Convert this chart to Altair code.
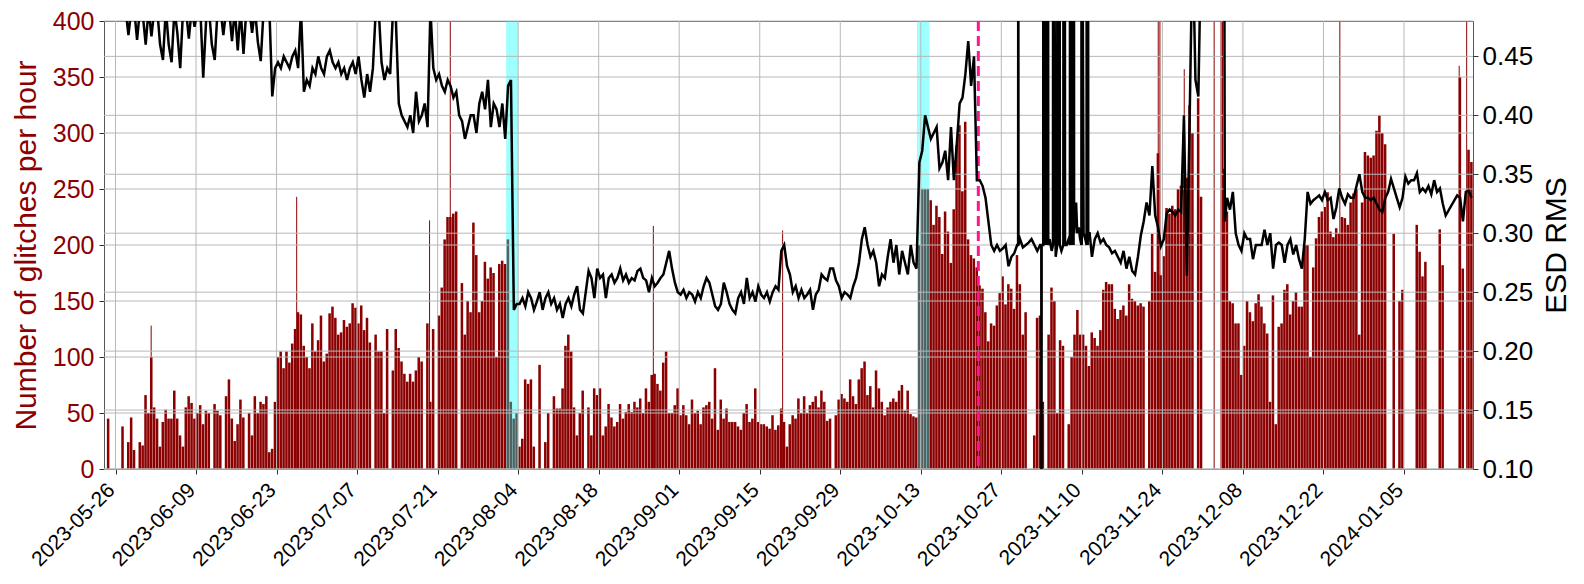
import altair as alt
import pandas as pd

N = None
BASE = pd.Timestamp("2023-05-24T00:00:00")

# glitches per hour, 12-hour bins starting 2023-05-24 00:00 (two values per day)
glitch_rate = [
    0, 45, 0, 0, 0, 0, 38, 0, 24, 46, 17, 0, 24, 21, 66, 50, 100, 55, 45, 20,
    42, 53, 45, 45, 70, 45, 30, 20, 55, 65, 59, 45, 50, 57, 40, 52, 50, 0, 58, 52,
    48, 0, 65, 80, 45, 25, 40, 62, 46, 0, 50, 30, 65, 50, 60, 58, 65, 15, 18, 60,
    100, 105, 90, 105, 95, 112, 125, 140, 138, 110, 100, 90, 130, 105, 115, 137, 96, 103, 139, 145,
    135, 120, 122, 133, 127, 130, 148, 144, 130, 146, 124, 135, 113, 0, 120, 105, 105, 50, 125, 0,
    88, 125, 108, 96, 85, 78, 85, 78, 88, 100, 96, 0, 130, 60, 125, 0, 137, 162, 205, 225,
    225, 228, 230, 0, 166, 120, 150, 140, 220, 191, 140, 150, 185, 170, 180, 175, 100, 183, 186, 183,
    205, 60, 45, 50, 20, 27, 80, 76, 80, 20, 0, 93, 0, 24, 50, 0, 65, 54, 54, 72,
    110, 120, 105, 55, 30, 50, 70, 0, 55, 30, 72, 66, 72, 30, 38, 58, 46, 38, 42, 58,
    45, 51, 58, 51, 60, 55, 63, 50, 72, 60, 84, 85, 76, 70, 95, 105, 50, 50, 57, 72,
    48, 57, 48, 40, 62, 50, 52, 40, 55, 57, 60, 45, 90, 35, 62, 45, 54, 42, 42, 42,
    38, 35, 50, 58, 42, 45, 72, 42, 40, 40, 38, 36, 48, 35, 39, 54, 42, 20, 40, 48,
    45, 63, 50, 65, 50, 57, 60, 65, 55, 70, 60, 43, 45, 0, 48, 62, 67, 63, 60, 80,
    65, 58, 80, 90, 96, 66, 74, 55, 88, 72, 60, 48, 55, 60, 63, 60, 70, 75, 52, 70,
    49, 47, 46, 200, 250, 250, 250, 240, 218, 235, 225, 192, 230, 212, 184, 232, 289, 307, 248, 310,
    205, 191, 188, 180, 164, 161, 140, 114, 130, 128, 146, 157, 172, 147, 165, 161, 143, 191, 165, 120,
    140, 0, 0, 30, 135, 137, 60, 0, 120, 162, 150, 50, 115, 110, 0, 40, 100, 120, 142, 120,
    120, 110, 92, 122, 117, 110, 124, 160, 167, 165, 165, 143, 134, 142, 146, 137, 165, 152, 150, 146,
    148, 145, 0, 150, 210, 176, 282, 173, 190, 233, 228, 235, 232, 250, 253, 300, 260, 325, 300, 0,
    331, 243, 0, 0, 0, 0, 0, 0, 0, 268, 230, 150, 148, 130, 130, 84, 110, 150, 140, 132,
    148, 156, 145, 130, 121, 60, 155, 40, 127, 130, 160, 165, 138, 150, 158, 145, 145, 200, 200, 100,
    180, 206, 225, 230, 234, 247, 212, 207, 215, 210, 225, 224, 218, 238, 246, 250, 120, 238, 283, 280,
    278, 280, 302, 316, 300, 290, 0, 0, 210, 0, 150, 160, 0, 0, 0, 0, 218, 194, 172, 185,
    0, 0, 0, 0, 214, 182, 0, 0, 0, 0, 0, 350, 179, 0, 285, 274,
]

# single-hour glitch spikes: day offset from 2023-05-24, value
spike_days = [8.2, 33.5, 56.6, 60.2, 95.5, 117.98, 183.28, 183.57, 187.8, 193.0,
              194.2, 194.45, 214.85, 235.6, 236.9]
spike_vals = [128, 243, 222, 420, 217, 213, 420, 420, 357, 420,
              420, 420, 420, 360, 420]

# ESD RMS, same 12-hour grid (value at bin centre)
esd_rms = [
    N, N, N, N, N, N, N, .49, .468, .49, .49, .464, .49, .485, .46, .49, .467, .49, .49, .46,
    .447, .49, .46, .445, .49, .47, .44, .49, .49, .465, .49, .475, .49, .49, .432, .48, .49, .46, .447, .49,
    .49, .468, .49, .49, .463, .49, .455, .49, .452, .49, .49, .47, .49, .462, .446, .49, .49, .49, .416, .44,
    .445, .44, .45, .445, .44, .45, .455, .44, .49, .42, .43, .425, .44, .435, .45, .44, .435, .45, .455, .445,
    .44, .445, .435, .44, .43, .44, .445, .435, .45, .43, .415, .435, .42, .44, .49, .49, .445, .43, .44, .435,
    .49, .48, .41, .40, .395, .39, .40, .385, .42, .395, .40, .41, .39, .49, .44, .43, .435, .425, .42, .43,
    .425, .415, .42, .40, .395, .38, .39, .40, .40, .385, .41, .42, .405, .43, .39, .41, .405, .39, .41, .38,
    .425, .43, .235, .24, .24, .245, .238, .25, .245, .235, .242, .25, .235, .245, .25, .24, .245, .235, .24, .228,
    .24, .245, .238, .248, .255, .235, .232, .25, .268, .262, .245, .27, .262, .265, .245, .262, .265, .258, .262, .27,
    .26, .265, .258, .262, .26, .268, .27, .262, .26, .25, .262, .255, .258, .262, .265, .275, .285, .27, .258, .25,
    .248, .252, .245, .25, .248, .242, .25, .245, .255, .262, .258, .248, .238, .235, .24, .258, .25, .24, .235, .232,
    .245, .25, .24, .262, .245, .25, .242, .255, .248, .245, .25, .242, .25, .255, .252, .285, .29, .272, .265, .25,
    .255, .245, .252, .245, .248, .252, .235, .248, .252, .265, .262, .26, .27, .27, .26, .255, .245, .25, .248, .245,
    .255, .262, .275, .295, .305, .29, .28, .285, .275, .255, .265, .262, .28, .295, .275, .29, .265, .285, .275, .265,
    .29, .275, .27, .36, .37, .40, .39, .38, .385, .39, .355, .36, .37, .345, .39, .345, .375, .41, .415, .435,
    .463, .425, .45, .345, .345, .34, .33, .31, .29, .285, .29, .285, .287, .29, .272, .28, .283, .29, .295, .288,
    .29, .292, .295, .29, .285, .29, N, N, N, N, N, N, N, N, N, N, N, N, N, N,
    N, N, N, .28, .295, .30, .292, .295, .29, .288, .283, .285, .28, .275, .285, .27, .28, .268, .265, .28,
    .298, .31, .326, .315, .357, .315, .305, .289, .295, .317, .32, .318, .315, .32, .318, .40, .264, .40, .55, .43,
    .416, .55, .6, .6, .6, .6, .6, .6, .6, .6, .33, .32, .335, .30, .29, .285, .30, .295, .295, .278,
    .29, .29, .29, .303, .29, .30, .27, .29, .292, .29, .275, .29, .295, .282, .29, .278, .27, .295, .335, .325,
    .328, .33, .332, .328, .335, .328, .33, .312, .322, .338, .33, .325, .333, .33, .33, .34, .35, .335, .33, .33,
    .328, .33, .325, .32, .318, .33, .335, .346, .338, .33, .322, .33, .348, .342, .345, .345, .351, .335, .338, .335,
    .34, .333, .345, .335, .338, .325, .315, N, N, N, .332, .33, .31, .335, .336, .33,
]

# finer ESD RMS readings where it bursts off the chart (early November)
rms_extra_days = [
    158.92, 158.95, 158.98,
    162.95, 162.98, 163.01, 163.2,
    163.28, 163.3, 163.36, 163.43, 163.5, 163.57, 163.64, 163.71, 163.78, 163.85, 163.92, 163.99,
    164.06, 164.12, 164.16, 164.4, 164.75,
    164.98, 165.0, 165.04, 165.08, 165.45,
    165.72, 165.74, 165.8, 165.87, 165.94, 166.01, 166.08, 166.14, 166.17, 166.45,
    166.78, 166.8, 166.86, 166.92, 166.98, 167.04, 167.07, 167.35, 167.7,
    167.92, 167.94, 168.0, 168.07, 168.14, 168.21, 168.28, 168.35, 168.42, 168.49, 168.56,
    168.62, 168.65,
    169.0, 169.2, 169.45, 169.7,
    169.92, 169.94, 169.98, 170.02, 170.3, 170.6,
    170.82, 170.84, 170.9, 170.96, 171.02, 171.08, 171.11, 171.35,
    194.85,
]
rms_extra_vals = [
    0.29, 0.70, 0.29,
    0.29, 0.02, 0.29, 0.29,
    0.29, 0.70, 0.29, 0.70, 0.30, 0.70, 0.29, 0.70, 0.30, 0.70, 0.29, 0.70,
    0.29, 0.70, 0.29, 0.295, 0.285,
    0.29, 0.70, 0.29, 0.70, 0.28,
    0.29, 0.70, 0.29, 0.70, 0.29, 0.70, 0.29, 0.70, 0.29, 0.285,
    0.29, 0.70, 0.29, 0.70, 0.29, 0.70, 0.29, 0.29, 0.295,
    0.29, 0.70, 0.29, 0.70, 0.29, 0.70, 0.29, 0.70, 0.29, 0.70, 0.29,
    0.70, 0.30,
    0.326, 0.30, 0.305, 0.295,
    0.29, 0.70, 0.29, 0.70, 0.30, 0.295,
    0.29, 0.70, 0.29, 0.70, 0.29, 0.70, 0.30, 0.30,
    0.31,
]

tick_dates = ["2023-05-26", "2023-06-09", "2023-06-23", "2023-07-07", "2023-07-21",
              "2023-08-04", "2023-08-18", "2023-09-01", "2023-09-15", "2023-09-29",
              "2023-10-13", "2023-10-27", "2023-11-10", "2023-11-24", "2023-12-08",
              "2023-12-22", "2024-01-05"]
left_ticks = [0, 50, 100, 150, 200, 250, 300, 350, 400]
right_ticks = [0.10, 0.15, 0.20, 0.25, 0.30, 0.35, 0.40, 0.45]

span_starts = ["2023-08-01T22:00:00Z", "2023-10-12T08:00:00Z"]
span_ends = ["2023-08-04T00:00:00Z", "2023-10-14T12:00:00Z"]
event_dates = ["2023-10-23T00:00:00Z"]

DARKRED = "#8b0000"
GRID = "#b8b8b8"
FONT = "Liberation Sans"
BAR_FILL = 0.44  # drawn fraction of a day for each 12-hour bar (leaves a hairline gap)


def iso(days):
    t = BASE + pd.Timedelta(days=days)
    return t.strftime("%Y-%m-%dT%H:%M:%SZ")


def ms(s):
    return int(pd.Timestamp(s + "T00:00:00", tz="UTC").value // 10**6)


bars = pd.DataFrame({
    "t": [iso(i * 0.5) for i in range(len(glitch_rate))],
    "t1": [iso(i * 0.5 + BAR_FILL) for i in range(len(glitch_rate))],
    "v": glitch_rate,
})
bars = bars[bars["v"] > 0]

spikes = pd.DataFrame({"t": [iso(d) for d in spike_days], "v": spike_vals})

pts = [(i * 0.5 + 0.25, v) for i, v in enumerate(esd_rms) if v is not None]
pts += list(zip(rms_extra_days, rms_extra_vals))
pts.sort()
line_df = pd.DataFrame({"t": [iso(d) for d, _ in pts], "v": [v for _, v in pts]})

spans = pd.DataFrame({"t": span_starts, "t1": span_ends})
events = pd.DataFrame({"t": event_dates})
vgrid = pd.DataFrame({"t": [d + "T00:00:00Z" for d in tick_dates]})
lgrid = pd.DataFrame({"v": left_ticks})
rgrid = pd.DataFrame({"v": right_ticks})

xscale = alt.Scale(type="utc", domain=[ms("2023-05-24"), ms("2024-01-17")])
lscale = alt.Scale(domain=[0, 400], nice=False, zero=False)
rscale = alt.Scale(domain=[0.10, 0.48], nice=False, zero=False)

xaxis = alt.Axis(values=[ms(s) for s in tick_dates], format="%Y-%m-%d", labelAngle=-45,
                 labelAlign="right", labelBaseline="alphabetic", labelFontSize=21,
                 labelColor="black", labelPadding=17, tickSize=5, tickColor="#333",
                 domain=False, grid=False, title=None, labelFont=FONT, labelOverlap=False,
                 labelBound=False, labelFlush=False, orient="bottom")


def X():
    return alt.X("t:T", scale=xscale, axis=xaxis)


laxis = alt.Axis(orient="left", values=left_ticks, labelFontSize=25, labelColor=DARKRED,
                 title="Number of glitches per hour", titleColor=DARKRED, titleFontSize=30,
                 titleFontWeight="normal", titlePadding=11, tickSize=5, tickColor="#333",
                 labelPadding=5, domain=False, grid=False, labelFont=FONT, titleFont=FONT)

raxis = alt.Axis(orient="right", values=right_ticks, format=".2f", labelFontSize=26,
                 labelColor="black", title="ESD RMS", titleColor="black", titleFontSize=30,
                 titleFontWeight="normal", titleAngle=270, titleBaseline="top", titlePadding=9,
                 tickSize=5, tickColor="#333", labelPadding=4, domain=False, grid=False,
                 labelFont=FONT, titleFont=FONT)

bar_layer = alt.Chart(bars).mark_rect(color=DARKRED, clip=True).encode(
    x=X(), x2="t1:T",
    y=alt.Y("v:Q", scale=lscale, axis=laxis),
    y2=alt.datum(0),
)

spike_layer = alt.Chart(spikes).mark_rule(color=DARKRED, strokeWidth=1, clip=True).encode(
    x=X(),
    y=alt.Y("v:Q", scale=lscale, axis=None),
    y2=alt.datum(0),
)

span_layer = alt.Chart(spans).mark_rect(color="#00ffff", opacity=0.38).encode(
    x=X(), x2="t1:T"
)

vgrid_layer = alt.Chart(vgrid).mark_rule(color=GRID, strokeWidth=1).encode(x=X())
lgrid_layer = alt.Chart(lgrid).mark_rule(color=GRID, strokeWidth=1).encode(
    y=alt.Y("v:Q", scale=lscale, axis=None)
)
rgrid_layer = alt.Chart(rgrid).mark_rule(color=GRID, strokeWidth=1).encode(
    y=alt.Y("v:Q", scale=rscale, axis=None)
)

event_layer = alt.Chart(events).mark_rule(color="#ff1493", strokeWidth=3,
                                          strokeDash=[10, 5]).encode(x=X())

line_layer = alt.Chart(line_df).mark_line(color="black", strokeWidth=2.5, clip=True).encode(
    x=X(),
    y=alt.Y("v:Q", scale=rscale, axis=raxis),
)

chart = alt.layer(
    bar_layer, spike_layer, span_layer, vgrid_layer, lgrid_layer, rgrid_layer,
    event_layer, line_layer
).resolve_scale(y="independent").properties(
    width=1369, height=448,
    autosize=alt.AutoSizeParams(type="none"),
    padding={"left": 96, "top": 13, "right": 100, "bottom": 106},
).configure(font=FONT).configure_view(stroke="#555", strokeWidth=1)

chart.save("out.html", embed_options={"renderer": "svg", "actions": False})
